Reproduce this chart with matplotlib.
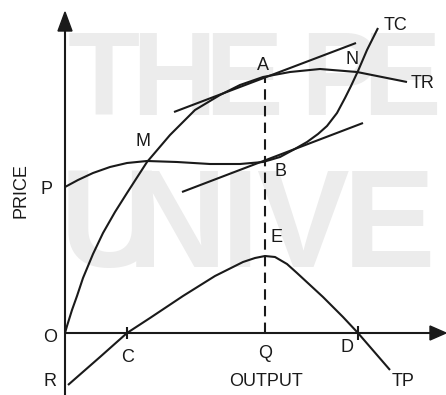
import matplotlib.pyplot as plt
from matplotlib.patches import Polygon

# curve points (origin at O, units ~ pixels)
tr_x = [0, 2, 7, 12, 18, 28, 38, 50, 62, 82, 105, 130, 155, 175, 198, 225, 255, 292, 342]
tr_y = [0, 7, 23, 37, 55, 79, 100, 121, 140, 171, 198, 223, 238, 248, 256, 261, 264, 261, 251]

tc_x = [0, 13, 28, 45, 62, 82, 112, 145, 175, 198, 215, 228, 242, 253, 262, 272, 280, 286, 293, 302, 313]
tc_y = [146, 153, 160, 166, 170, 172, 171, 169, 169, 171, 176, 183, 191, 199, 207, 220, 235, 247, 262, 283, 305]

tp_x = [3, 35, 62, 85, 118, 150, 178, 190, 200, 210, 222, 232, 245, 258, 278, 293, 325]
tp_y = [-52, -24, 0, 15, 37, 57, 71, 75, 77, 76, 69, 60, 48, 36, 16, 0, -37]

tan_a_x = [109, 291]
tan_a_y = [221, 290]
tan_b_x = [117, 298]
tan_b_y = [141, 210]

q_x = 200
a_y = 256
c_x = 62
d_x = 293

# watermark letters (visible part of "THE PEOPLE'S UNIVERSITY")
wm1 = ['T', 'H', 'E', 'P', 'E']
wm1_x = [39, 109, 178, 274, 336]
wm2 = ['U', 'N', 'I', 'V', 'E']
wm2_x = [45, 112, 175, 237, 324]

fig = plt.figure(figsize=(4.46, 3.95), dpi=100)
ax = fig.add_axes([0, 0, 1, 1])
ax.set_xlim(-65, 381)
ax.set_ylim(-62, 333)
ax.axis('off')

wm = dict(color='#ececec', family=['Liberation Sans Narrow', 'Liberation Sans'],
          fontweight='bold', zorder=0, ha='center', va='baseline')
for ch, x in zip(wm1, wm1_x):
    ax.text(x, 218, ch, fontsize=85, **wm)
for ch, x in zip(wm2, wm2_x):
    ax.text(x, 66, ch, fontsize=100, **wm)

k = dict(color='#1a1a1a', lw=1.5, solid_capstyle='butt', solid_joinstyle='round')
# axes
ax.plot([0, 0], [-62, 306], **k)
ax.plot([0, 368], [0, 0], **k)
ax.add_patch(Polygon([[-7, 302], [7, 302], [0, 321]], closed=True, color='#1a1a1a'))
ax.add_patch(Polygon([[365, -7], [365, 7], [381, 0]], closed=True, color='#1a1a1a'))

ax.plot(tr_x, tr_y, **k)
ax.plot(tc_x, tc_y, **k)
ax.plot(tp_x, tp_y, **k)
ax.plot(tan_a_x, tan_a_y, **k)
ax.plot(tan_b_x, tan_b_y, **k)
ax.plot([q_x, q_x], [0, a_y], color='#1a1a1a', lw=1.5, ls=(0, (5, 3)))
ax.plot([c_x, c_x], [-6, 6], **k)
ax.plot([d_x, d_x], [-7, 7], **k)

t = dict(fontsize=13, family='Liberation Sans', color='#1a1a1a', ha='center', va='center')
ax.text(-44, 142, 'PRICE', rotation=90, **t)
ax.text(-18, 143, 'P', **t)
ax.text(-15, -4, 'O', **t)
ax.text(-15, -49, 'R', **t)
ax.text(c_x + 1, -25, 'C', **t)
ax.text(q_x, -20, 'Q', **t)
ax.text(282, -14, 'D', **t)
ax.text(338, -49, 'TP', **t)
ax.text(201, -48, 'OUTPUT', **t)
ax.text(212, 96, 'E', **t)
ax.text(215, 161, 'B', **t)
ax.text(78, 191, 'M', **t)
ax.text(198, 268, 'A', **t)
ax.text(287, 273, 'N', **t)
ax.text(331, 307, 'TC', **t)
ax.text(358, 249, 'TR', **t)

fig.savefig('out.png', dpi=100)
